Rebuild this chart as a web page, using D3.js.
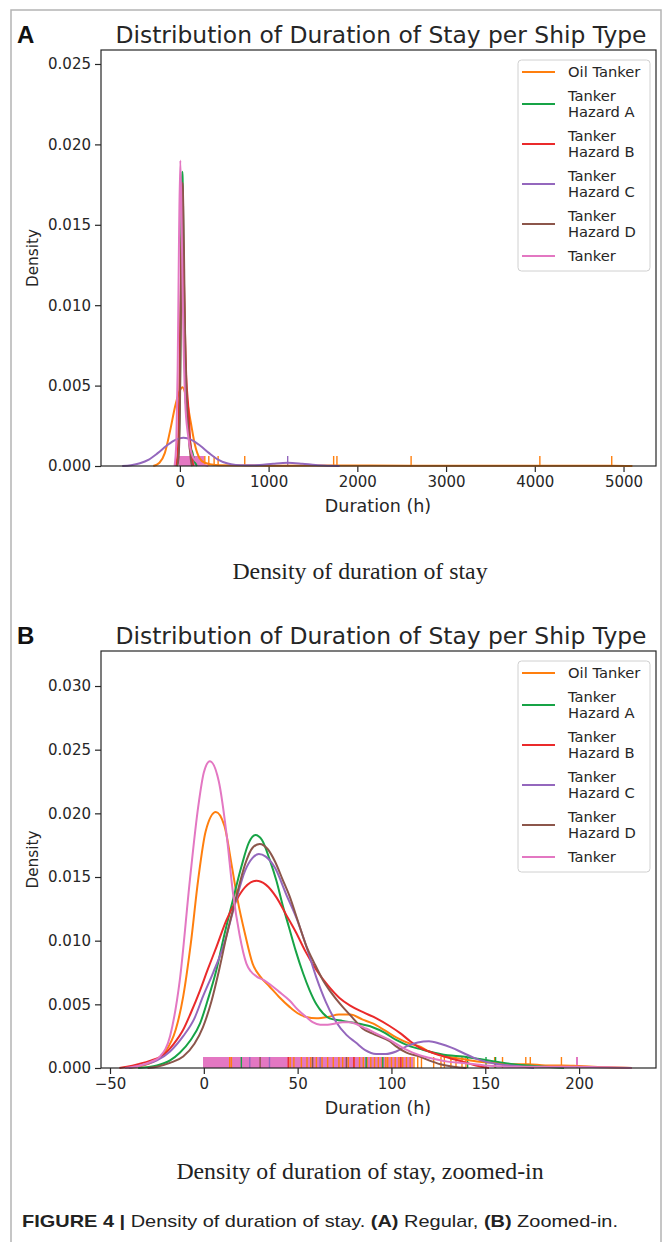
<!DOCTYPE html>
<html>
<head>
<meta charset="utf-8"/>
<title>Distribution of Duration of Stay per Ship Type</title>
<style>
  body { margin: 0; background: #fff; }
  svg { display: block; }
  .tick text { font-family: "DejaVu Sans", sans-serif; font-size: 15px; fill: #262626; }
  .tick line { stroke: #262626; stroke-width: 1.2px; }
  .domain { display: none; }
</style>
<script src="https://d3js.org/d3.v7.min.js"></script>
</head>
<body>
<svg id="chart" width="663" height="1242"></svg>
<script>
// ---- data ----
var shipTypes = ["Oil Tanker", "Tanker Hazard A", "Tanker Hazard B", "Tanker Hazard C", "Tanker Hazard D", "Tanker"];
var legendLabels = [["Oil Tanker"], ["Tanker", "Hazard A"], ["Tanker", "Hazard B"], ["Tanker", "Hazard C"], ["Tanker", "Hazard D"], ["Tanker"]];
var colors = ["#ff7f0e", "#17a346", "#ea2a2b", "#9467bd", "#8c564b", "#e377c2"];

// zoomed-in densities [hours, density]
var oilZoom = [[-40,0],[-30,0.0003],[-20,0.0014],[-15,0.003],[-11,0.0056],[-7,0.0097],[-3,0.0148],[1,0.0186],[6.4,0.0201],[11,0.019],[15,0.0158],[18,0.0132],[22,0.0105],[26,0.0082],[30,0.0072],[35,0.0064],[40,0.0056],[45.7,0.0048],[50,0.0043],[54.6,0.004],[60,0.0039],[66,0.004],[72,0.0042],[78,0.0042],[84.7,0.0038],[90,0.0035],[96,0.003],[102.5,0.0024],[110,0.0019],[115,0.0017],[120,0.0013],[130,0.0009],[138,0.0007],[147,0.0005],[156,0.0004],[165,0.0003],[173,0.0003],[182,0.0002],[191,0.0002],[200,0.00015],[210,0.00008],[220,0.00003],[228,0]];
var hazAZoom = [[-35,0],[-25,0.0002],[-18,0.0006],[-12.8,0.0012],[-7,0.0022],[-2,0.0035],[2,0.0053],[6.7,0.0077],[11,0.0105],[15.5,0.0132],[20,0.0158],[24,0.0177],[27.5,0.0183],[31,0.0179],[35,0.0164],[38.7,0.0147],[42,0.0128],[45.5,0.011],[49,0.0092],[53,0.0074],[56.4,0.0061],[60,0.005],[63.5,0.0043],[67,0.0039],[74,0.0037],[82,0.0035],[90,0.0032],[96,0.0028],[102.5,0.0022],[110,0.0017],[115,0.0015],[120,0.0013],[130,0.001],[138,0.0009],[147,0.0007],[155.7,0.0005],[165,0.0003],[173,0.0002],[182,0.0001],[192,0]];
var hazBZoom = [[-45,0],[-41,0.0001],[-35,0.0003],[-28,0.0006],[-21.8,0.001],[-16,0.0019],[-11,0.003],[-7,0.0043],[-2,0.0061],[2,0.0077],[6.7,0.0095],[12,0.0116],[17.4,0.0132],[22,0.0142],[28,0.0147],[33,0.0144],[38.7,0.0134],[44,0.012],[49.3,0.0106],[54,0.0092],[60,0.0077],[66,0.0065],[72.3,0.0055],[78,0.0049],[84.6,0.0044],[92,0.0039],[99,0.0033],[105,0.0027],[110,0.0021],[115,0.0016],[120,0.0013],[128,0.0009],[138,0.0005],[145,0.0002],[152,0]];
var hazCZoom = [[-40,0],[-37,0.0001],[-31,0.0003],[-25,0.0006],[-18,0.0013],[-11,0.0025],[-5,0.0039],[-0.5,0.0056],[5,0.0075],[10.3,0.0095],[16.5,0.0128],[22,0.0155],[26,0.0165],[29.3,0.0168],[33,0.0166],[38,0.0157],[44,0.0136],[49.3,0.0118],[55,0.0094],[60,0.0071],[65,0.0052],[70.6,0.0036],[76,0.0026],[81,0.002],[86,0.0014],[91.8,0.0011],[97,0.0011],[102.5,0.0013],[108,0.0017],[114,0.002],[120,0.0021],[126,0.0019],[132,0.0016],[138,0.0012],[144,0.0008],[150,0.0005],[157,0.0003],[163,0.0002],[170,0.0001],[176,0]];
var hazDZoom = [[-30,0],[-25,0.0001],[-18,0.0004],[-11,0.0009],[-5,0.0019],[-0.5,0.0032],[4,0.0052],[8,0.0076],[12,0.0103],[17.4,0.0135],[22,0.016],[26,0.0173],[29.8,0.0176],[34,0.0172],[38,0.0162],[42,0.0148],[45.7,0.0135],[50,0.0116],[54.6,0.0096],[59,0.0082],[63.5,0.0069],[68,0.0059],[74,0.0048],[79,0.004],[84.6,0.0031],[90,0.0027],[99,0.0021],[102.5,0.0017],[108,0.0012],[115,0.0009],[120,0.0006],[126,0.0003],[133,0.0001],[140,0]];
var tankerZoom = [[-42,0],[-34,0.0002],[-28,0.0005],[-23.4,0.0009],[-18,0.0025],[-12.8,0.0069],[-7.4,0.0148],[-3,0.0205],[0,0.0232],[3.2,0.0241],[8,0.0225],[12,0.0185],[15.5,0.0138],[19,0.0105],[22.7,0.0082],[25,0.0076],[28,0.0072],[32,0.0069],[35,0.0066],[40,0.006],[45.7,0.0053],[50,0.0046],[54.6,0.004],[58,0.0036],[62,0.0034],[66,0.0034],[70,0.0035],[74,0.0036],[78,0.0036],[82,0.0034],[86.5,0.0031],[92,0.0027],[99,0.0022],[107,0.0015],[115,0.001],[120,0.0008],[130,0.0005],[138,0.0004],[150,0.0002],[166,0.0001],[185,0.0001],[199,0.0001],[215,0.00005],[228,0]];

// full-range densities (only the ones that differ from the zoomed data)
var oilFull = [[-300,0],[-230,0.0002],[-170,0.0008],[-110,0.0022],[-50,0.0038],[0,0.0047],[30,0.0049],[70,0.0043],[120,0.0028],[170,0.0013],[220,0.0005],[280,0.0002],[400,0.00006],[700,0.00003],[1000,0.00002],[1700,0.00003],[2600,0.00002],[4000,0.00002],[4860,0.00002],[5100,0]];
var hazCFull = [[-650,0],[-550,0.00005],[-450,0.00017],[-350,0.0004],[-250,0.0008],[-150,0.00126],[-50,0.00163],[40,0.00175],[130,0.00163],[230,0.00126],[330,0.0008],[430,0.0004],[530,0.00017],[630,0.00007],[750,0.00004],[900,0.00006],[1050,0.00014],[1215,0.0002],[1380,0.00014],[1530,0.00006],[1680,0.00002],[1800,0]];
var tankerFull = [[-60,0],[-40,0.0015],[-25,0.006],[-10,0.014],[5,0.019],[20,0.015],[40,0.008],[60,0.004],[90,0.002],[130,0.0008],[180,0.0003],[250,0.0001],[320,0]];

// rug observations (hours)
var oilRug = [13.8, 14.7, 46, 48, 52, 55, 57, 60, 63, 66, 69, 72, 74, 77, 80, 83, 85, 87, 89, 91, 93, 95, 97, 98, 100, 102, 104, 106, 108, 110, 112, 114, 116, 122.5, 126.4, 128.2, 131.7, 134.4, 137.6, 139.7, 155, 159.2, 171.6, 174, 190.6];
var hazARug = [20, 86.5, 95.4, 140.6, 150.4, 155.5];
var hazBRug = [45, 80, 105];
var hazCRug = [24.5, 35, 62];
var hazDRug = [30, 58, 76];
var tankerRug = [0, 1, 2, 3, 4, 5, 6, 7, 8, 9, 10, 11, 12, 13, 14, 15, 16, 17, 18, 19, 20, 21, 22, 23, 24, 25, 26, 27, 28, 29, 30, 31, 32, 33, 34, 35, 36, 37, 38, 39, 40, 41, 42, 43, 44, 45, 46, 47, 48, 49, 50, 51, 52, 53, 54, 55, 56, 57, 58, 59, 60, 61, 62, 63, 64, 65, 66, 67, 68, 69, 70, 71, 72, 73, 74, 75, 76, 77, 78, 79, 80, 81, 82, 83, 84, 85, 86, 87, 88, 89, 90, 91, 92, 93, 94, 95, 96, 97, 98, 99, 100, 101, 102, 103, 104, 105, 106, 107, 108, 109, 110, 111, 199];
// outliers only shown in the full-range panel
var oilRugFull = [206, 281, 326, 386, 431, 731, 1733, 1770, 2606, 4057, 4867];
var hazCRugFull = [1215];
var tankerRugFull = [118, 126, 134, 142, 150, 158, 166, 174, 182, 190, 208, 216, 224, 232, 240, 248, 256];

// axes
var xTicksFull = [0, 1000, 2000, 3000, 4000, 5000];
var yTicksFull = [0, 0.005, 0.01, 0.015, 0.02, 0.025];
var xTicksZoom = [-50, 0, 50, 100, 150, 200];
var yTicksZoom = [0, 0.005, 0.01, 0.015, 0.02, 0.025, 0.03];

var svg = d3.select("#chart");

// figure frame
svg.append("path")
  .attr("d", "M11,1242 V10 H661 V1242")
  .attr("fill", "none")
  .attr("stroke", "#b4b4b4")
  .attr("stroke-width", 1.5);

function drawPanel(p) {
  var x = d3.scaleLinear().domain(p.xDomain).range([101, 656]);
  var y = d3.scaleLinear().domain(p.yDomain).range([p.bottom, p.top]);
  var g = svg.append("g");

  g.append("text")
    .attr("x", 17).attr("y", p.top - 7)
    .attr("font-family", "Liberation Sans, Arial, sans-serif")
    .attr("font-weight", "bold").attr("font-size", 24)
    .attr("fill", "#111")
    .text(p.letter);

  g.append("text")
    .attr("x", 381).attr("y", p.top - 7)
    .attr("text-anchor", "middle")
    .attr("font-family", "DejaVu Sans, sans-serif").attr("font-size", 23.4)
    .attr("fill", "#262626")
    .text("Distribution of Duration of Stay per Ship Type");

  g.append("g")
    .attr("transform", "translate(0," + p.bottom + ")")
    .call(d3.axisBottom(x).tickValues(p.xTicks).tickFormat(d3.format("d")).tickSize(6).tickPadding(4));
  g.append("g")
    .attr("transform", "translate(101,0)")
    .call(d3.axisLeft(y).tickValues(p.yTicks).tickFormat(d3.format(".3f")).tickSize(6).tickPadding(4));

  g.append("text")
    .attr("x", 378).attr("y", p.bottom + 46)
    .attr("text-anchor", "middle")
    .attr("font-family", "DejaVu Sans, sans-serif").attr("font-size", 17.5)
    .attr("fill", "#262626")
    .text("Duration (h)");
  g.append("text")
    .attr("transform", "translate(38," + ((p.top + p.bottom) / 2) + ") rotate(-90)")
    .attr("text-anchor", "middle")
    .attr("font-family", "DejaVu Sans, sans-serif").attr("font-size", 15.3)
    .attr("fill", "#262626")
    .text("Density");

  // rug marks: the dense Tanker block is drawn crisp, the rest as thin ticks
  p.rugs.forEach(function(r) {
    var dense = r.type === 5;
    g.append("g").selectAll("line")
      .data(r.values)
      .join("line")
      .attr("x1", function(d) { return x(d); })
      .attr("x2", function(d) { return x(d); })
      .attr("y1", p.bottom)
      .attr("y2", p.bottom - p.rugHeight)
      .attr("stroke", colors[r.type])
      .attr("stroke-width", dense ? 2 : 1.4)
      .attr("shape-rendering", dense ? "crispEdges" : "auto");
  });

  // density curves
  var line = d3.line()
    .x(function(d) { return x(d[0]); })
    .y(function(d) { return y(d[1]); })
    .curve(d3.curveMonotoneX);
  g.append("g").selectAll("path")
    .data(p.curves)
    .join("path")
    .attr("d", function(c) { return line(c.values); })
    .attr("fill", "none")
    .attr("stroke", function(c) { return colors[c.type]; })
    .attr("stroke-width", 2)
    .attr("stroke-linejoin", "round");

  // plot frame
  g.append("rect")
    .attr("x", 101).attr("y", p.top)
    .attr("width", 555).attr("height", p.bottom - p.top)
    .attr("fill", "none")
    .attr("stroke", "#262626")
    .attr("stroke-width", 1.2);

  // legend
  var lg = g.append("g").attr("transform", "translate(518," + (p.top + 10) + ")");
  lg.append("rect")
    .attr("width", 132).attr("height", 211)
    .attr("rx", 3.5)
    .attr("fill", "#fff").attr("fill-opacity", 0.8)
    .attr("stroke", "#d0d0d0");
  var yPos = 12;
  legendLabels.forEach(function(lines, i) {
    var mid = yPos + (lines.length - 1) * 8;
    lg.append("line")
      .attr("x1", 4).attr("x2", 37)
      .attr("y1", mid).attr("y2", mid)
      .attr("stroke", colors[i]).attr("stroke-width", 2);
    var t = lg.append("text")
      .attr("font-family", "DejaVu Sans, sans-serif").attr("font-size", 14.7)
      .attr("fill", "#262626");
    lines.forEach(function(s, k) {
      t.append("tspan").attr("x", 50).attr("y", yPos + 5 + k * 16).text(s);
    });
    yPos += lines.length === 1 ? 24 : 40;
  });

  // caption under the panel
  svg.append("text")
    .attr("x", 360).attr("y", p.captionY)
    .attr("text-anchor", "middle")
    .attr("font-family", "Liberation Serif, Times New Roman, serif").attr("font-size", 23.8)
    .attr("fill", "#222")
    .text(p.caption);
}

drawPanel({
  letter: "A", top: 50, bottom: 466,
  xDomain: [-889, 5366], yDomain: [0, 0.02587],
  xTicks: xTicksFull, yTicks: yTicksFull, rugHeight: 10,
  caption: "Density of duration of stay", captionY: 579,
  rugs: [
    { type: 0, values: oilRug.concat(oilRugFull) },
    { type: 1, values: hazARug },
    { type: 2, values: hazBRug },
    { type: 3, values: hazCRug.concat(hazCRugFull) },
    { type: 4, values: hazDRug },
    { type: 5, values: tankerRug.concat(tankerRugFull) }
  ],
  curves: [
    { type: 0, values: oilFull },
    { type: 1, values: hazAZoom },
    { type: 2, values: hazBZoom },
    { type: 3, values: hazCFull },
    { type: 4, values: hazDZoom },
    { type: 5, values: tankerFull }
  ]
});

drawPanel({
  letter: "B", top: 651, bottom: 1068,
  xDomain: [-54.8, 241], yDomain: [0, 0.03275],
  xTicks: xTicksZoom, yTicks: yTicksZoom, rugHeight: 11,
  caption: "Density of duration of stay, zoomed-in", captionY: 1179,
  rugs: [
    { type: 5, values: tankerRug },
    { type: 0, values: oilRug },
    { type: 1, values: hazARug },
    { type: 2, values: hazBRug },
    { type: 3, values: hazCRug },
    { type: 4, values: hazDRug }
  ],
  curves: [
    { type: 0, values: oilZoom },
    { type: 1, values: hazAZoom },
    { type: 2, values: hazBZoom },
    { type: 3, values: hazCZoom },
    { type: 4, values: hazDZoom },
    { type: 5, values: tankerZoom }
  ]
});

// figure caption
var cap = svg.append("text")
  .attr("x", 22).attr("y", 1227)
  .attr("font-family", "Liberation Sans, Arial, sans-serif").attr("font-size", 17)
  .attr("fill", "#222")
  .attr("textLength", 596).attr("lengthAdjust", "spacingAndGlyphs");
cap.append("tspan").attr("font-weight", "bold").text("FIGURE 4 | ");
cap.append("tspan").text("Density of duration of stay. ");
cap.append("tspan").attr("font-weight", "bold").text("(A)");
cap.append("tspan").text(" Regular, ");
cap.append("tspan").attr("font-weight", "bold").text("(B)");
cap.append("tspan").text(" Zoomed-in.");
</script>
</body>
</html>
